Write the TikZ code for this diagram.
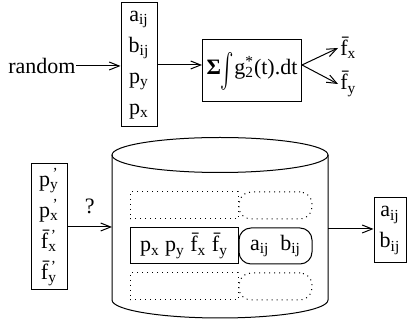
\documentclass[tikz,border=0pt]{standalone}
\usepackage{fontspec}
\setmainfont{Liberation Serif}
\usetikzlibrary{arrows.meta,positioning,calc}

\newcommand{\sbs}[2]{#1\textsubscript{#2}}
\newcommand{\prm}[2]{#1\rlap{\textsuperscript{\,'}}\textsubscript{#2}}
\newcommand{\fb}{\={f}}

\begin{document}
\begin{tikzpicture}[
    x=0.5pt, y=-0.5pt,
    >={Straight Barb[length=5pt,width=4pt]},
    every node/.style={font=\fontsize{11}{15.5}\selectfont},
    box/.style={draw, line width=0.5pt, inner sep=0pt, align=center},
    rbox/.style={box, rounded corners=6pt},
    arr/.style={->, line width=0.5pt}
  ]
    \useasboundingbox (0,0) rectangle (408,320);

    % generator
    \node[anchor=east, inner sep=0pt] (rnd) at (76,66) {random};
    \node[box, minimum width=18pt, minimum height=62pt] (par) at (139,65)
      {\sbs{a}{ij}\\ \sbs{b}{ij}\\ \sbs{p}{y}\\ \sbs{p}{x}};
    \node[box, minimum width=49.5pt, minimum height=31pt] (sum) at (252,71)
      {\textbf{Σ}\raisebox{-0.6ex}{\scalebox{1}[1.7]{$\int$}}g\rlap{\textsuperscript{*}}\textsubscript{2}(t).dt};
    \node[anchor=west, inner sep=1pt] (fx) at (338,48) {\fb\textsubscript{x}};
    \node[anchor=west, inner sep=1pt] (fy) at (338,84) {\fb\textsubscript{y}};

    \draw[arr] (rnd.east) -- (par.west |- rnd.east);
    \draw[arr] (par.east) -- (sum.west |- par.east);
    \draw[arr] (sum.east |- par.east) -- (fx.west);
    \draw[arr] (sum.east |- par.east) -- (fy.west);

    % query and base
    \node[box, minimum width=18pt, minimum height=63pt] (qin) at (49,227)
      {\prm{p}{y}\\ \prm{p}{x}\\ \prm{\fb}{x}\\ \prm{\fb}{y}};

    \draw[line width=0.5pt] (220,155) ellipse [x radius=54pt, y radius=8.75pt];
    \draw[line width=0.5pt] (112,155) -- (112,300)
      arc [start angle=180, end angle=360, x radius=54pt, y radius=9pt] -- (328,155);
    \coordinate (cylW) at (112,229);
    \coordinate (cylE) at (328,229);

    \node[box, dotted, minimum width=54pt, minimum height=13.5pt] (r1a) at (184,205.5) {};
    \node[rbox, dotted, right=0pt of r1a, minimum width=36.5pt, minimum height=13.5pt] (r1b) {};
    \node[box, minimum width=54pt, minimum height=18pt] (r2a) at (184,246)
      {\sbs{p}{x} \sbs{p}{y} \fb\textsubscript{x} \fb\textsubscript{y}};
    \node[rbox, right=0pt of r2a, minimum width=36.5pt, minimum height=18pt] (r2b)
      {\sbs{a}{ij}\enspace\sbs{b}{ij}};
    \node[box, dotted, minimum width=54pt, minimum height=13.5pt] (r3a) at (184,286.5) {};
    \node[rbox, dotted, right=0pt of r3a, minimum width=36.5pt, minimum height=13.5pt] (r3b) {};

    \node[box, minimum width=16pt, minimum height=32.5pt] (out) at (390,230.5)
      {\sbs{a}{ij}\\ \sbs{b}{ij}};

    \draw[arr] (qin.east) -- node[above=3pt] {?} (qin.east -| cylW);
    \draw[arr] (cylE) -- (cylE -| out.west);

  \end{tikzpicture}
\end{document}
